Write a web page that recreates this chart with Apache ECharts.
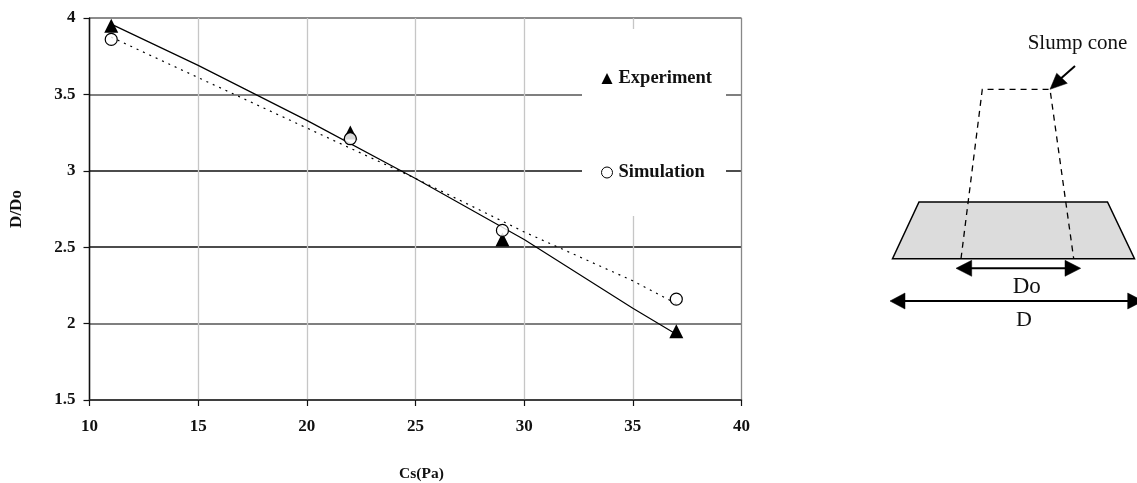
<!DOCTYPE html>
<html>
<head>
<meta charset="utf-8">
<style>html,body{margin:0;padding:0;background:#fff}#c{width:1137px;height:483px}</style>
<script src="https://cdn.jsdelivr.net/npm/echarts@6/dist/echarts.min.js"></script>
</head>
<body>
<div id="c"></div>
<script>
const pointX = [11, 22, 29, 37];
const experiment = [3.95, 3.25, 2.55, 1.95];
const simulation = [3.86, 3.21, 2.61, 2.16];
const trendX = [11, 15, 20, 25, 30, 35, 37];
const experimentTrend = [3.96, 3.69, 3.33, 2.95, 2.55, 2.1, 1.93];
const simulationTrend = [3.875, 3.61, 3.28, 2.95, 2.6, 2.28, 2.13];
const zip = (xs, ys) => xs.map((x, i) => [x, ys[i]]);

const SERIF = '"Liberation Serif","Times New Roman",serif';
const INK = '#111';
const thin = {stroke: '#000', lineWidth: 2, fill: 'none'};
const solidHead = {fill: '#000', stroke: '#000', lineWidth: 0.5};
function poly(points, shapeStyle, extra) {
  return Object.assign({type: 'polygon', shape: {points}, style: shapeStyle, silent: true}, extra || {});
}
function line(points, shapeStyle) {
  return {type: 'polyline', shape: {points}, style: shapeStyle, silent: true};
}
function label(text, x, y, size) {
  return {type: 'text', x, y, silent: true, style: {text, fill: INK, font: size + 'px ' + SERIF, textAlign: 'center', textVerticalAlign: 'middle'}};
}
const schematic = [
  poly([[919,202],[1107.5,202],[1134.5,258.7],[892.5,258.7]], {fill: '#dcdcdc', stroke: '#000', lineWidth: 1.5}),
  line([[961,258.7],[982.3,89.3],[1050,89.3],[1073.7,258.7]], {stroke: '#000', fill: 'none', lineWidth: 1.3, lineDash: [6, 5]}),
  line([[1075,66],[1058,81]], thin),
  poly([[1050,89.3],[1056.7,73.3],[1067.3,83.3]], solidHead),
  line([[968,268.3],[1068,268.3]], thin),
  poly([[956,268.3],[971.7,260.3],[971.7,276.3]], solidHead),
  poly([[1080.7,268.3],[1065,260.3],[1065,276.3]], solidHead),
  line([[900,301],[1132,301]], thin),
  poly([[890,301],[905,293],[905,309]], solidHead),
  poly([[1143,301],[1127.7,293],[1127.7,309]], solidHead),
  label('Slump cone', 1077.5, 43, 21),
  label('Do', 1026.7, 287, 23),
  label('D', 1024, 320, 22)
];

const chart = echarts.init(document.getElementById('c'), null, {renderer: 'canvas'});
chart.setOption({
  animation: false,
  backgroundColor: '#fff',
  textStyle: {fontFamily: SERIF},
  grid: {left: 89.5, right: 395.5, top: 18, bottom: 83, outerBoundsMode: 'none'},
  xAxis: {
    type: 'value', min: 10, max: 40, interval: 5,
    name: 'Cs(Pa)', nameLocation: 'middle', nameGap: 66,
    nameTextStyle: {fontFamily: SERIF, fontWeight: 'bold', fontSize: 15.5, color: INK, padding: [0, 0, 0, 12]},
    axisLine: {lineStyle: {color: '#333', width: 1.5}},
    axisTick: {show: true, length: 6, lineStyle: {color: '#111', width: 1.2}},
    axisLabel: {fontFamily: SERIF, fontWeight: 'bold', fontSize: 17, color: INK, margin: 18, showMinLabel: true, showMaxLabel: true},
    splitLine: {show: true, lineStyle: {width: 1.3, color: ['#000', '#c6c6c6', '#c6c6c6', '#c6c6c6', '#c6c6c6', '#c6c6c6', '#888']}}
  },
  yAxis: {
    type: 'value', min: 1.5, max: 4, interval: 0.5,
    name: 'D/Do', nameLocation: 'middle', nameGap: 64, nameRotate: 90,
    nameTextStyle: {fontFamily: SERIF, fontWeight: 'bold', fontSize: 17, color: INK},
    axisLine: {show: true, lineStyle: {color: '#111', width: 1.3}},
    axisTick: {show: true, length: 6, lineStyle: {color: '#111', width: 1.2}},
    axisLabel: {fontFamily: SERIF, fontWeight: 'bold', fontSize: 17, color: INK, margin: 14, padding: [2, 0, 0, 0], showMinLabel: true, showMaxLabel: true},
    splitLine: {show: true, lineStyle: {width: 1.6, color: ['#333', '#555', '#111', '#111', '#555', '#666']}}
  },
  legend: {
    left: 582, top: 29, orient: 'vertical', selectedMode: false,
    backgroundColor: '#fff', borderWidth: 0,
    padding: [40, 14, 34, 19], itemGap: 75, itemWidth: 11, itemHeight: 11,
    textStyle: {fontFamily: SERIF, fontWeight: 'bold', fontSize: 18.5, color: INK, padding: [0, 0, 0, 1]},
    data: [
      {name: 'Experiment', icon: 'triangle', itemStyle: {color: '#000', borderWidth: 0}},
      {name: 'Simulation', icon: 'circle', itemStyle: {color: '#fff', borderColor: '#000', borderWidth: 1}}
    ]
  },
  series: [
    {name: 'Experiment trend', type: 'line', data: zip(trendX, experimentTrend), symbol: 'none', lineStyle: {color: '#000', width: 1.2}, z: 2},
    {name: 'Simulation trend', type: 'line', data: zip(trendX, simulationTrend), symbol: 'none', lineStyle: {color: '#000', width: 1.2, type: [2, 5]}, z: 2},
    {name: 'Experiment', type: 'scatter', data: zip(pointX, experiment), symbol: 'triangle', symbolSize: 14, itemStyle: {color: '#000', opacity: 1}, z: 3},
    {name: 'Simulation', type: 'scatter', data: zip(pointX, simulation), symbol: 'circle', symbolSize: 12, itemStyle: {color: 'rgba(255,255,255,0.85)', borderColor: '#000', borderWidth: 1.2, opacity: 1}, z: 4}
  ],
  graphic: schematic
});
</script>
</body>
</html>
